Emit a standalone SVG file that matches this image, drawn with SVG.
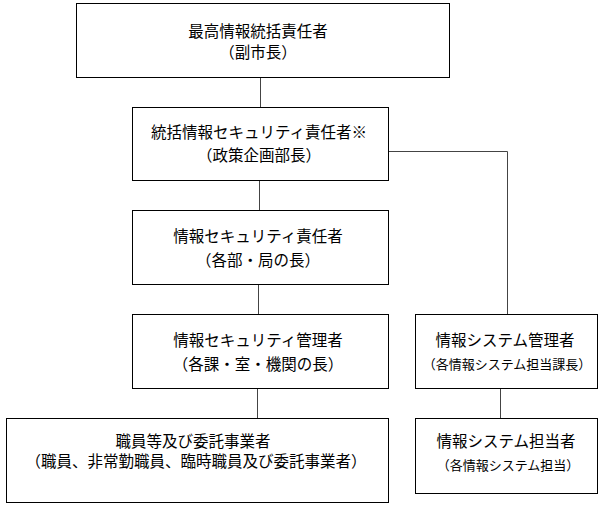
<svg xmlns="http://www.w3.org/2000/svg" width="601" height="506" viewBox="0 0 601 506">
<style>
.box{fill:#fff;stroke:#000;stroke-width:1}
.t{font-family:"Noto Sans CJK JP","Noto Sans CJK SC",sans-serif;font-size:15.5px;fill:#000;text-anchor:middle}
.s{font-size:13px}
.c{fill:none;stroke:#444;stroke-width:1}
</style>
<rect width="601" height="506" fill="#fff"/>
<g id="connectors">
<path class="c" d="M260.5 77V107"/>
<path class="c" d="M259.5 180V210"/>
<path class="c" d="M258.5 284V314"/>
<path class="c" d="M257.5 388V418"/>
<path class="c" d="M388 151.5H507.5V314"/>
<path class="c" d="M500.5 388V418"/>
</g>
<g id="n1"><rect class="box" x="76.5" y="3.5" width="373" height="74"/>
<text class="t" x="258" y="37">最高情報統括責任者</text><text class="t" x="258" y="58">（副市長）</text></g>
<g id="n2"><rect class="box" x="132.5" y="107.5" width="256" height="73"/>
<text class="t" x="259" y="137.5">統括情報セキュリティ責任者※</text><text class="t" x="259" y="161">（政策企画部長）</text></g>
<g id="n3"><rect class="box" x="132.5" y="210.5" width="256" height="74"/>
<text class="t" x="258" y="241.5">情報セキュリティ責任者</text><text class="t" x="258" y="266">（各部・局の長）</text></g>
<g id="n4"><rect class="box" x="132.5" y="314.5" width="256" height="74"/>
<text class="t" x="258" y="346">情報セキュリティ管理者</text><text class="t" x="258" y="370">（各課・室・機関の長）</text></g>
<g id="n5"><rect class="box" x="415.5" y="314.5" width="182" height="74"/>
<text class="t" x="505" y="345.5">情報システム管理者</text><text class="t s" x="507" y="368.5">（各情報システム担当課長）</text></g>
<g id="n6"><rect class="box" x="415.5" y="418.5" width="182" height="75"/>
<text class="t" x="506" y="446.5">情報システム担当者</text><text class="t s" x="508" y="470">（各情報システム担当）</text></g>
<g id="n7"><rect class="box" x="6.5" y="418.5" width="382" height="84"/>
<text class="t" x="193" y="446.5">職員等及び委託事業者</text><text class="t" x="196" y="466.5">（職員、非常勤職員、臨時職員及び委託事業者）</text></g>
</svg>
